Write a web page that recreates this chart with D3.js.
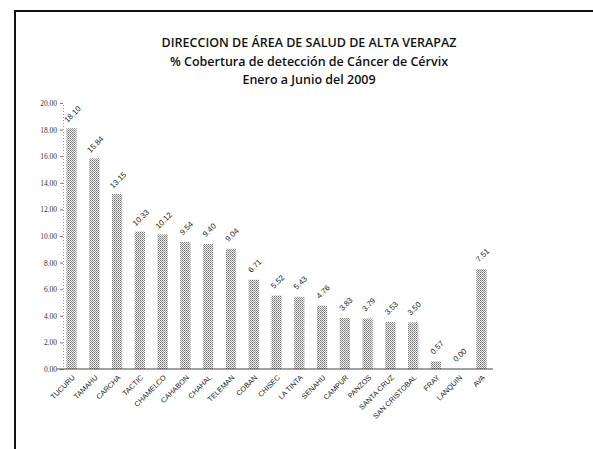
<!DOCTYPE html>
<html><head><meta charset="utf-8">
<script src="https://cdn.jsdelivr.net/npm/d3@7"></script>
<style>body{margin:0;background:#fff}svg{display:block}</style>
</head><body>
<script>
const categories = ["TUCURU","TAMAHU","CARCHA","TACTIC","CHAMELCO","CAHABON","CHAHAL","TELEMAN","COBAN","CHISEC","LA TINTA","SENAHU","CAMPUR","PANZOS","SANTA CRUZ","SAN CRISTOBAL","FRAY","LANQUIN","AVA"];
const values = [18.10,15.84,13.15,10.33,10.12,9.54,9.40,9.04,6.71,5.52,5.43,4.76,3.83,3.79,3.53,3.50,0.57,0.00,7.51];
const yTicks = [0,2,4,6,8,10,12,14,16,18,20];
const titleLines = ["DIRECCION DE ÁREA DE SALUD DE ALTA VERAPAZ","% Cobertura de detección de Cáncer de Cérvix","Enero a Junio del 2009"];

const W=593,H=449;
const svg=d3.select("body").append("svg").attr("width",W).attr("height",H);
const defs=svg.append("defs");
const pat=defs.append("pattern").attr("id","dots").attr("patternUnits","userSpaceOnUse").attr("width",2).attr("height",2);
pat.append("rect").attr("width",2).attr("height",2).attr("fill","#ececec");
pat.append("rect").attr("width",1).attr("height",1).attr("fill","#7a7a7a");
pat.append("rect").attr("x",1).attr("y",1).attr("width",1).attr("height",1).attr("fill","#9a9a9a");

// frame
svg.append("path").attr("d","M15,449 V11 H593").attr("fill","none").attr("stroke","#111").attr("stroke-width",2);

// title
const t=svg.append("g").attr("font-family","'Open Sans',sans-serif").attr("font-weight",600).attr("fill","#111").attr("text-anchor","middle");
titleLines.forEach((s,i)=>t.append("text").attr("x",309).attr("y",[47,66,84][i]).attr("font-size",12.5).text(s));

const x=d3.scaleBand().domain(categories).range([60,493]).paddingInner(0.55).paddingOuter(0.28);
const y=d3.scaleLinear().domain([0,20]).range([369,103]);

// y axis
const ya=svg.append("g").attr("transform","translate(63,0)").call(d3.axisLeft(y).tickValues(yTicks).tickFormat(d3.format(".2f")).tickSize(3).tickPadding(3));
ya.select(".domain").attr("stroke","#999").attr("stroke-dasharray","1,2");
ya.selectAll(".tick line").attr("stroke","#777");
ya.selectAll("text").attr("font-family","'Liberation Serif',serif").attr("font-size",7.5).attr("fill","#333");

// bars
svg.append("g").selectAll("rect").data(values).join("rect")
 .attr("x",(d,i)=>x(categories[i])).attr("width",x.bandwidth())
 .attr("y",d=>y(d)).attr("height",d=>y(0)-y(d)).attr("fill","url(#dots)");

// x axis baseline
svg.append("line").attr("x1",57).attr("x2",493).attr("y1",y(0)).attr("y2",y(0)).attr("stroke","#444").attr("stroke-width",1);

// x labels
svg.append("g").selectAll("text").data(categories).join("text")
 .attr("transform",d=>`translate(${x(d)+x.bandwidth()/2+4},${y(0)+9}) rotate(-45)`)
 .attr("text-anchor","end").attr("font-family","'Liberation Sans',sans-serif").attr("font-size",7.3).attr("fill","#222").text(d=>d);

// value labels
svg.append("g").selectAll("text").data(values).join("text")
 .attr("transform",(d,i)=>`translate(${x(categories[i])+x.bandwidth()/2+1},${y(d)-14}) rotate(-45)`)
 .attr("text-anchor","middle").attr("dy","0.35em").attr("font-family","'Liberation Sans',sans-serif").attr("font-size",7.8).attr("fill","#222").text(d=>d3.format(".2f")(d));
</script>
</body></html>
